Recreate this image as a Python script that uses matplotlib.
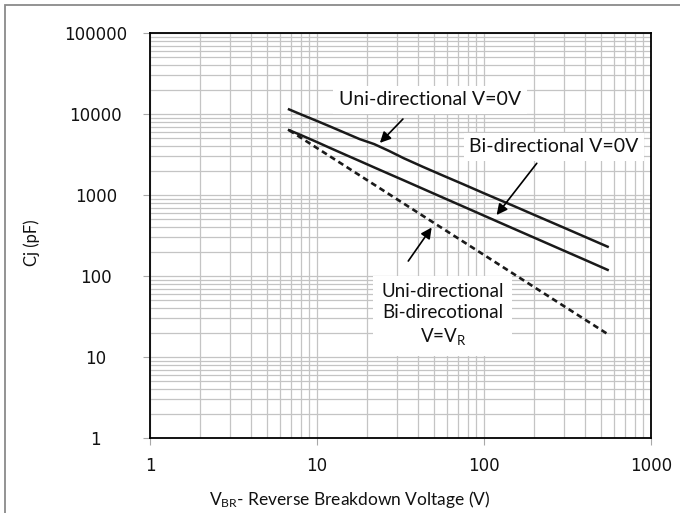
import matplotlib
matplotlib.use('Agg')
import matplotlib.pyplot as plt
import numpy as np
from matplotlib.ticker import LogLocator, NullFormatter
from matplotlib.patches import Rectangle

plt.rcParams['mathtext.fontset'] = 'custom'
plt.rcParams['mathtext.rm'] = 'Lato'
plt.rcParams['mathtext.it'] = 'Lato:italic'
plt.rcParams['mathtext.bf'] = 'Lato:bold'

# ---- data ----
vbr = [6.8, 8, 10, 12, 15, 18, 22, 27, 33, 43, 56, 75, 100, 150, 200, 300, 400, 550]
cj_uni_0v = [11400, 9900, 8200, 7000, 5750, 4900, 4250, 3500, 2850, 2230, 1760, 1360,
             1050, 735, 568, 396, 306, 230]
cj_bi_0v = [6320, 5500, 4500, 3800, 3100, 2630, 2190, 1820, 1520, 1195, 940, 722,
            556, 385, 297, 206, 159, 119]
vbr_vr = [6.8, 10, 22, 56, 100, 200, 400, 550]
cj_vr = [6320, 3800, 1342, 391, 182, 72.8, 29.2, 19.2]

xticks = [1, 10, 100, 1000]
xticklabels = ['1', '10', '100', '1000']
yticks = [1, 10, 100, 1000, 10000, 100000]
yticklabels = ['1', '10', '100', '1000', '10000', '100000']

W, H = 680, 513
fig = plt.figure(figsize=(W / 100, H / 100), dpi=100)
ax = fig.add_axes([150 / W, 1 - 438 / H, 501 / W, 405 / H])
ax.set_xscale('log')
ax.set_yscale('log')
ax.set_xlim(1, 1000)
ax.set_ylim(1, 100000)

ax.set_xticks(xticks)
ax.set_xticklabels(xticklabels)
ax.set_yticks(yticks)
ax.set_yticklabels(yticklabels)
for axis in (ax.xaxis, ax.yaxis):
    axis.set_minor_locator(LogLocator(base=10, subs=np.arange(2, 10)))
    axis.set_minor_formatter(NullFormatter())

ax.grid(True, which='both', color='#c4c4c4', lw=0.9, zorder=0)
ax.set_axisbelow(True)
ax.tick_params(which='minor', length=0)
ax.tick_params(which='major', length=5, color='#a8a8a8', width=0.8,
               labelsize=12, labelcolor='#111111')
ax.tick_params(axis='y', pad=34)
ax.tick_params(axis='x', pad=9)
for lab in ax.get_yticklabels():
    lab.set_horizontalalignment('center')
for sp in ax.spines.values():
    sp.set_color('black')
    sp.set_linewidth(1.3)

# ---- curves ----
ax.plot(vbr, cj_uni_0v, color='#1a1a1a', lw=1.8, zorder=3)
ax.plot(vbr, cj_bi_0v, color='#1a1a1a', lw=1.8, zorder=3)
ax.plot(vbr_vr, cj_vr, color='#1a1a1a', lw=1.9, ls=(0, (2.2, 1.5)), zorder=3)

# ---- annotations ----
font = dict(family='Lato', fontsize=14, color='#111111')
box = dict(facecolor='white', edgecolor='none', pad=4)
arrow = dict(arrowstyle='-|>', color='black', lw=1.2, mutation_scale=16,
             shrinkA=0, shrinkB=0)

ax.text(47.5, 14900, 'Uni-directional V=0V', ha='center', va='center',
        bbox=box, zorder=4, **font)
ax.annotate('', xy=(23.8, 4400), xytext=(32.7, 8670), arrowprops=arrow, zorder=5)

ax.text(262, 3915, 'Bi-directional V=0V', ha='center', va='center',
        bbox=box, zorder=4, **font)
ax.annotate('', xy=(119, 566), xytext=(207, 2462), arrowprops=arrow, zorder=5)

ax.text(56.8, 33, 'Uni-directional\nBi-direcotional\nV=V$_\\mathrm{R}$',
        ha='center', va='center', linespacing=1.32, multialignment='center',
        bbox=dict(facecolor='white', edgecolor='none', pad=6), zorder=4,
        family='Lato', fontsize=13.5, color='#111111')
ax.annotate('', xy=(48.6, 397), xytext=(35.2, 153), arrowprops=arrow, zorder=5)

# ---- axis titles ----
fig.text(32 / W, 1 - 243 / H, 'Cj (pF)', rotation=90, ha='center', va='center',
         family='Lato', fontsize=12, color='#111111')
fig.text(350 / W, 1 - 500 / H, 'V$_\\mathrm{BR}$- Reverse Breakdown Voltage (V)',
         ha='center', va='center', family='Lato', fontsize=12.5, color='#111111')

# ---- outer frame ----
fig.add_artist(Rectangle((5 / W, -0.02), 1.05, 1 - 5 / H + 0.02, transform=fig.transFigure,
                         fill=False, edgecolor='#8a8a8a', lw=1.3, clip_on=False))

fig.savefig('out.png', dpi=100)
